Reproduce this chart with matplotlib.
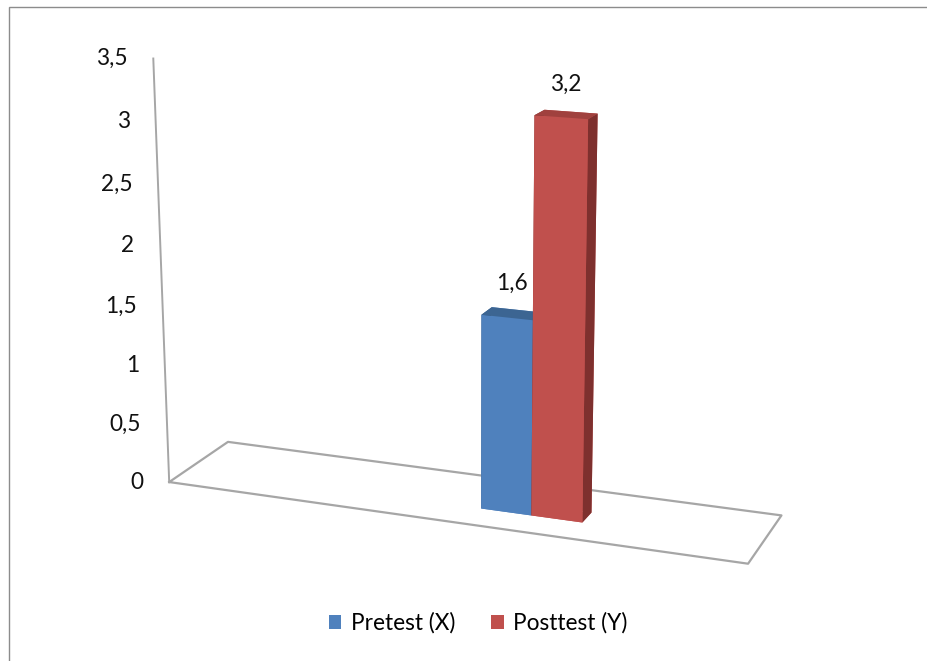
import matplotlib
matplotlib.use("Agg")
import matplotlib.pyplot as plt
from matplotlib.patches import Patch, Rectangle
from mpl_toolkits.mplot3d import proj3d

# data
series = ["Pretest (X)", "Posttest (Y)"]
values = [1.6, 3.2]
value_labels = ["1,6", "3,2"]
z_ticks = [0, 0.5, 1, 1.5, 2, 2.5, 3, 3.5]
z_tick_labels = ["0", "0,5", "1", "1,5", "2", "2,5", "3", "3,5"]

front_colors = ["#4F81BD", "#C0504D"]
top_colors = ["#3C6592", "#A0413E"]
side_colors = ["#345A86", "#7E302E"]

plt.rcParams["font.family"] = ["Lato", "DejaVu Sans"]
FS = 16.3

fig = plt.figure(figsize=(9.27, 6.61), dpi=100)
fig.add_artist(Rectangle((9 / 927, -0.1), 1.2, 1 - 7 / 661 + 0.1,
                         transform=fig.transFigure, fill=False,
                         edgecolor="#8C8C8C", linewidth=1.0))

ax = fig.add_axes([0.1185, 0.0195, 0.755, 1.06], projection="3d")
ax.set_proj_type("persp", focal_length=0.6)
ax.view_init(elev=15.5, azim=-69)

xmin, xmax = -6.15, 5.35
ymin, ymax = 0.0, 3.0
zmin, zmax = 0.0, 3.5
ax.set_xlim(xmin, xmax)
ax.set_ylim(ymin, ymax)
ax.set_zlim(zmin, zmax)
ax.set_xticks([])
ax.set_yticks([])
ax.set_zticks([])
ax.set_box_aspect((0.985, 0.215, 0.71), zoom=1.078)
ax.set_axis_off()

# floor outline and value axis line
grey = "#A6A6A6"
ax.plot([xmin, xmax, xmax, xmin, xmin], [ymin, ymin, ymax, ymax, ymin],
        [0, 0, 0, 0, 0], color=grey, linewidth=1.6)
ax.plot([xmin, xmin], [ymin, ymin], [zmin, zmax], color=grey, linewidth=1.4)

bar_w = 1.0
bar_d = 0.65
y0 = 1.0
for i, v in enumerate(values):
    x0 = i * bar_w
    # face order: -Z, +Z, -Y, +Y, -X, +X
    cols = [front_colors[i], top_colors[i], front_colors[i],
            front_colors[i], side_colors[i], side_colors[i]]
    ax.bar3d(x0, y0, 0, bar_w, bar_d, v, color=cols, shade=False,
             linewidth=0)

# place labels in 2D once the projection is known
fig.canvas.draw()
M = ax.get_proj()

for z, lab in zip(z_ticks, z_tick_labels):
    px, py, _ = proj3d.proj_transform(xmin, ymin, z, M)
    ax.annotate(lab, (px, py), xytext=(-18.5, 0), textcoords="offset points",
                ha="right", va="center", fontsize=FS, color="#111111")

for i, (v, lab) in enumerate(zip(values, value_labels)):
    px, py, _ = proj3d.proj_transform(i * bar_w + bar_w / 2, y0 + bar_d / 2, v, M)
    ax.annotate(lab, (px, py), xytext=(0, 14), textcoords="offset points",
                ha="center", va="bottom", fontsize=FS, color="#111111")

handles = [Patch(facecolor=c, edgecolor="none") for c in front_colors]
fig.legend(handles, series, loc="center", bbox_to_anchor=(478 / 927, 1 - 623 / 661),
           ncol=2, frameon=False, fontsize=FS, handlelength=0.55,
           handleheight=0.55, handletextpad=0.4, columnspacing=1.6)

fig.savefig("out.png", dpi=100)
